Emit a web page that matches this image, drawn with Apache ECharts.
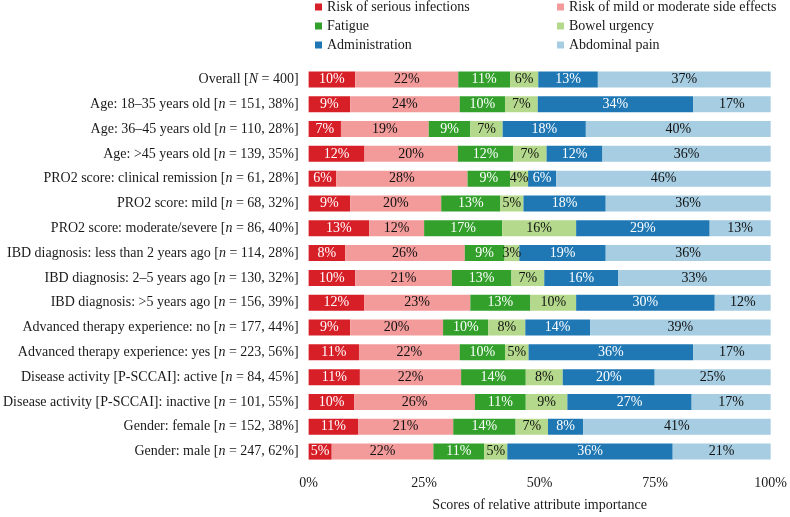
<!DOCTYPE html>
<html>
<head>
<meta charset="utf-8">
<script src="https://cdn.jsdelivr.net/npm/echarts@6/dist/echarts.min.js"></script>
<style>
html,body{margin:0;padding:0;background:#fff;}
#chart{width:790px;height:517px;}
</style>
</head>
<body>
<div id="chart"></div>
<script>
const categories = [
  "Overall [N = 400]",
  "Age: 18–35 years old [n = 151, 38%]",
  "Age: 36–45 years old [n = 110, 28%]",
  "Age: >45 years old [n = 139, 35%]",
  "PRO2 score: clinical remission [n = 61, 28%]",
  "PRO2 score: mild [n = 68, 32%]",
  "PRO2 score: moderate/severe [n = 86, 40%]",
  "IBD diagnosis: less than 2 years ago [n = 114, 28%]",
  "IBD diagnosis: 2–5 years ago [n = 130, 32%]",
  "IBD diagnosis: >5 years ago [n = 156, 39%]",
  "Advanced therapy experience: no [n = 177, 44%]",
  "Advanced therapy experience: yes [n = 223, 56%]",
  "Disease activity [P-SCCAI]: active [n = 84, 45%]",
  "Disease activity [P-SCCAI]: inactive [n = 101, 55%]",
  "Gender: female [n = 152, 38%]",
  "Gender: male [n = 247, 62%]"
];
const seriesNames = [
  "Risk of serious infections",
  "Risk of mild or moderate side effects",
  "Fatigue",
  "Bowel urgency",
  "Administration",
  "Abdominal pain"
];
const seriousInfections = [10.1, 9.0, 7.0, 12.1, 6.0, 9.0, 13.1, 7.9, 10.1, 12.0, 9.0, 10.9, 11.1, 9.9, 10.7, 5.0];
const mildSideEffects   = [22.3, 23.7, 19.0, 20.2, 28.4, 19.7, 11.9, 25.9, 20.9, 23.0, 20.1, 21.8, 21.9, 26.1, 20.6, 22.0];
const fatigue           = [11.2, 9.8, 9.0, 12.0, 9.2, 12.8, 16.9, 8.6, 12.9, 13.0, 9.8, 9.8, 14.0, 11.0, 13.5, 11.0];
const bowelUrgency      = [6.1, 7.1, 7.0, 7.2, 3.9, 5.0, 16.0, 3.2, 7.1, 9.9, 8.0, 5.1, 8.0, 9.0, 7.0, 5.0];
const administration    = [12.9, 33.6, 18.0, 12.1, 6.1, 17.8, 28.9, 18.7, 16.0, 30.0, 14.0, 35.6, 19.9, 26.9, 7.6, 35.8];
const abdominalPain     = [37.4, 16.8, 40.0, 36.4, 46.4, 35.7, 13.2, 35.7, 33.0, 12.1, 39.1, 16.8, 25.1, 17.1, 40.6, 21.2];
const xTicks = [0, 25, 50, 75, 100];

const values = [seriousInfections, mildSideEffects, fatigue, bowelUrgency, administration, abdominalPain];
const colors = ["#d71f27", "#f29b9a", "#33a02c", "#b4d98c", "#1f78b4", "#a6cde2"];
const labelColors = ["#ffffff", "#111111", "#ffffff", "#111111", "#ffffff", "#111111"];
const FONT = "Liberation Serif";
const FS = 14;

const chart = echarts.init(document.getElementById('chart'));

const legendPos = [
  {left: 315, top: 0}, {left: 557, top: 0},
  {left: 315, top: 19}, {left: 557, top: 19},
  {left: 315, top: 38}, {left: 557, top: 38}
];
const legends = seriesNames.map((n, i) => ({
  data: [n],
  left: legendPos[i].left,
  top: legendPos[i].top,
  padding: 0,
  itemWidth: 7,
  itemHeight: 7,
  icon: 'rect',
  itemGap: 0,
  selectedMode: false,
  textStyle: {fontFamily: FONT, fontSize: FS, color: '#1a1a1a', padding: [0, 0, 0, 0]}
}));

const option = {
  animation: false,
  color: colors,
  legend: legends,
  grid: {left: 308, right: 18, top: 67, bottom: 53},
  xAxis: {
    type: 'value',
    min: xTicks[0],
    max: xTicks[xTicks.length - 1],
    interval: 25,
    axisLine: {show: false},
    axisTick: {show: false},
    splitLine: {show: false},
    axisLabel: {formatter: '{value}%', fontFamily: FONT, fontSize: FS, color: '#1a1a1a', margin: 12},
    name: 'Scores of relative attribute importance',
    nameLocation: 'middle',
    nameGap: 34,
    nameTextStyle: {fontFamily: FONT, fontSize: FS, color: '#1a1a1a'}
  },
  yAxis: {
    type: 'category',
    inverse: true,
    data: categories,
    axisLine: {show: false},
    axisTick: {show: false},
    axisLabel: {
      fontFamily: FONT, fontSize: FS, color: '#1a1a1a', margin: 10,
      formatter: v => v.replace(/\[(n|N) =/, '[{i|$1} ='),
      rich: {i: {fontFamily: FONT, fontSize: FS, fontStyle: 'italic', color: '#1a1a1a'}}
    }
  },
  series: seriesNames.map((n, i) => ({
    name: n,
    type: 'bar',
    stack: 'total',
    barWidth: 16,
    data: values[i],
    itemStyle: {color: colors[i]},
    label: {
      show: true,
      position: 'inside',
      formatter: p => Math.round(p.value) + '%',
      fontFamily: FONT,
      fontSize: FS,
      color: labelColors[i]
    }
  }))
};
chart.setOption(option);
</script>
</body>
</html>
